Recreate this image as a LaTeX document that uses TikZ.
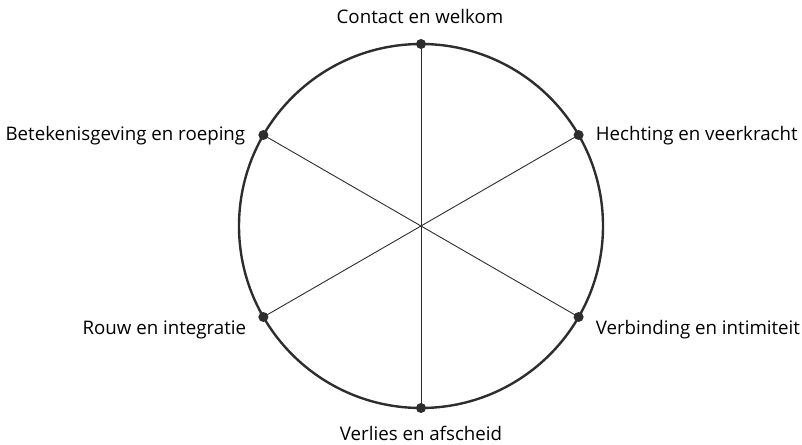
\documentclass[tikz,border=0pt]{standalone}
\usepackage{fontspec}
\setmainfont{Open Sans}
\usetikzlibrary{calc, positioning}
\definecolor{cRing}{RGB}{45,45,45}
\tikzset{
	rim/.style  ={draw=cRing, line width=2.4pt},
	spoke/.style={draw=cRing, line width=0.9pt},
	pin/.style  ={circle, fill=cRing, inner sep=0pt, minimum size=10pt},
	lbl/.style  ={inner sep=0pt, text=black, font=\fontsize{18.7}{22}\selectfont},
}

\begin{document}
\begin{tikzpicture}[x=1pt, y=1pt]
	\useasboundingbox (0,0) rectangle (802,444);
	\coordinate (c) at (421,218);
	\draw[rim] (c) circle (182);
	% points on the rim
	\foreach \a/\n in {90/top, 30/ne, -30/se, -90/bot, 210/sw, 150/nw}
		\coordinate (\n) at ($(c)+(\a:182)$);
	\draw[spoke] (top) -- (bot);
	\draw[spoke] (ne) -- (sw);
	\draw[spoke] (nw) -- (se);
	\foreach \n in {top, ne, se, bot, sw, nw}
		\node[pin] (d\n) at (\n) {};
	% labels
	\node[lbl, anchor=base] (ltop) at ($(top)+(-1,20)$) {Contact en welkom};
	\node[lbl, anchor=base west] (lne) at ($(ne)+(17,-6)$) {Hechting en veerkracht};
	\node[lbl, anchor=base west] (lse) at ($(se)+(17,-18)$) {Verbinding en intimiteit};
	\node[lbl, anchor=base] (lbot) at ($(bot)+(0,-32)$) {Verlies en afscheid};
	\node[lbl, anchor=base east] (lsw) at ($(sw)+(-17,-18)$) {Rouw en integratie};
	\node[lbl, anchor=base east] (lnw) at ($(nw)+(-18,-6)$) {Betekenisgeving en roeping};
\end{tikzpicture}
\end{document}
